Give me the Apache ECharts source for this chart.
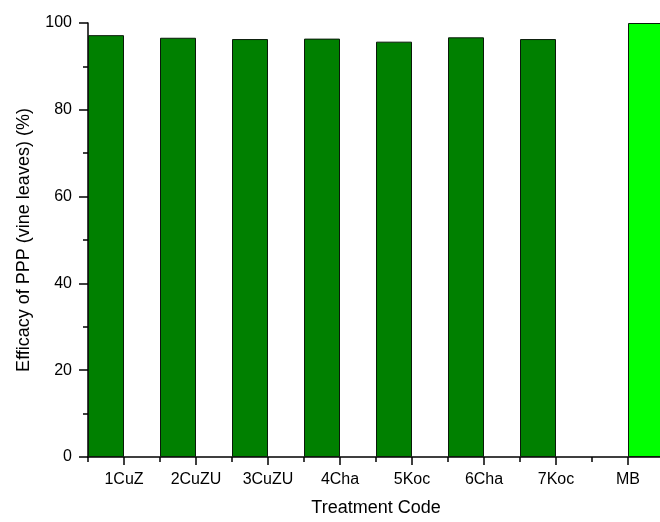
<!DOCTYPE html>
<html>
<head>
<meta charset="utf-8">
<script src="https://cdn.jsdelivr.net/npm/echarts@6/dist/echarts.min.js"></script>
<style>
  html, body { margin: 0; padding: 0; background: #fff; overflow: hidden; width: 660px; height: 522px; }
  /* the plot runs a few pixels past the right edge, so the MB bar is cut */
  #chart { width: 664px; height: 522px; }
</style>
</head>
<body>
<div id="chart"></div>
<script>
// Treatment codes along the x axis
const treatmentCodes = ['1CuZ', '2CuZU', '3CuZU', '4Cha', '5Koc', '6Cha', '7Koc', 'MB'];
// Efficacy of plant protection products on vine leaves (%)
const treatedEfficacy = [97.2, 96.6, 96.3, 96.4, 95.7, 96.7, 96.3, '-'];
// Reference treatment MB
const mbEfficacy = ['-', '-', '-', '-', '-', '-', '-', 100];
const yTicks = [0, 20, 40, 60, 80, 100];

const font = 'Liberation Sans, Arial, Helvetica, sans-serif';
const chart = echarts.init(document.getElementById('chart'), null, { renderer: 'canvas' });

const axisStroke = { color: '#000', width: 1.5 };

chart.setOption({
  animation: false,
  backgroundColor: '#ffffff',
  grid: { left: 88, right: 0, top: 23, bottom: 62, containLabel: false },
  xAxis: [
    {
      type: 'category',
      data: treatmentCodes,
      position: 'bottom',
      name: 'Treatment Code',
      nameLocation: 'middle',
      nameGap: 42,
      nameTextStyle: { fontFamily: font, fontSize: 18, color: '#000' },
      axisLine: { show: true, onZero: false, lineStyle: axisStroke },
      axisTick: { show: true, alignWithLabel: true, interval: 0, length: 8, lineStyle: axisStroke },
      axisLabel: { fontFamily: font, fontSize: 16, color: '#000', margin: 15, interval: 0 },
      splitLine: { show: false }
    },
    {
      // short ticks on the boundaries between treatment bands
      type: 'value',
      min: 0,
      max: treatmentCodes.length,
      interval: 1,
      position: 'bottom',
      axisLine: { show: false, onZero: false },
      axisTick: { show: true, length: 5, lineStyle: axisStroke },
      axisLabel: { show: false },
      splitLine: { show: false }
    }
  ],
  yAxis: {
    type: 'value',
    min: yTicks[0],
    max: yTicks[yTicks.length - 1],
    interval: 20,
    name: 'Efficacy of PPP (vine leaves) (%)',
    nameLocation: 'middle',
    nameGap: 55,
    nameTextStyle: { fontFamily: font, fontSize: 18, color: '#000' },
    axisLine: { show: true, lineStyle: axisStroke },
    axisTick: { show: true, length: 9, lineStyle: axisStroke },
    minorTick: { show: true, splitNumber: 2, length: 5, lineStyle: axisStroke },
    axisLabel: { fontFamily: font, fontSize: 16, color: '#000', margin: 16 },
    splitLine: { show: false }
  },
  series: [
    {
      type: 'bar',
      xAxisIndex: 0,
      data: treatedEfficacy,
      barWidth: 36,
      barGap: 0,
      itemStyle: { color: '#008000', borderColor: '#0a1a0a', borderWidth: 1 }
    },
    {
      type: 'bar',
      xAxisIndex: 0,
      data: mbEfficacy,
      barWidth: 36,
      barGap: 0,
      clip: false,
      itemStyle: { color: '#00ff00', borderColor: '#0a1a0a', borderWidth: 1 }
    }
  ]
});
</script>
</body>
</html>
